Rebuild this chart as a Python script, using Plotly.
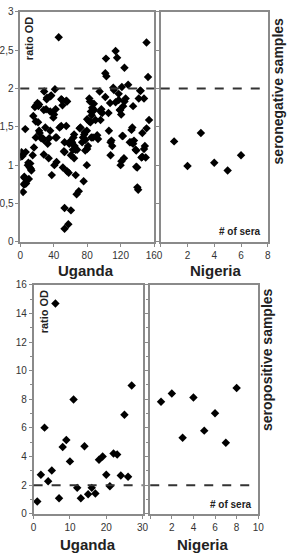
import plotly.graph_objects as go

# ---------------- data ----------------
uganda_neg_x = [0.5, 1.5, 2.6, 3.4, 4.2, 4.5, 5.3, 4.9, 6, 6.5, 6.9, 9.1, 9.7, 10.3, 11.4, 12, 12.8, 13.3,
                14.9, 16.4, 15.6, 18.6, 18.6, 17.5, 19, 20.6, 21.7, 22.5, 21.3, 22.5,
                23.2, 25, 26.9, 28, 28.2, 28.2, 28.6, 30, 30.9, 31.6, 32, 32.8, 34, 34.6, 35.8, 35.8,
                36, 37, 37.7, 39.6, 40.4, 40.8,
                41.5, 42.3, 42.3, 43.4, 43.4, 46, 47, 49, 49, 50, 50.5, 51, 52.2, 53, 53, 53, 53,
                55, 55, 56, 56, 57.5, 57.9, 58.6, 60.6, 60.6, 60.6, 62,
                63.6, 63, 64.4, 64.4, 65, 66, 66.3, 67.4, 68, 70, 71, 72, 74, 75, 75.8, 76.5, 77,
                77.7, 78, 79.6, 79.6, 80, 80, 81,
                82.6, 82.6, 83.4, 84, 84.5, 85, 85.5, 86, 87, 88, 88.5, 90, 92, 93, 94.9, 96, 96, 97, 98,
                101.7, 101.7, 102.5, 103, 105.5, 106, 107.4, 108, 108, 109, 110, 111.2, 112, 114, 114,
                115.8, 117.7, 117.7, 119, 119.6, 120, 120.7, 121, 121.5, 122,
                122.7, 123, 124, 124.6, 124.6, 126, 129, 131, 132.6, 133, 134, 134.9, 135, 136, 138,
                138.7, 138.7, 139.8, 140, 141, 141.7, 143.4, 144, 145, 146, 146, 148, 148, 149, 150,
                151, 151, 152.8, 154]
uganda_neg_y = [1.11, 1.17, 1.12, 0.65, 0.75, 0.84, 0.75, 0.85, 1.47, 1.17, 0.76, 1.0, 1.03, 0.82, 0.97, 1.02, 0.95, 0.93,
                1.13, 1.23, 1.64, 1.36, 1.57, 1.76, 1.78, 1.81, 1.77, 1.79, 1.56, 1.45,
                1.42, 1.35, 1.35, 1.33, 1.14, 1.72, 1.96, 1.49, 1.73, 1.86, 1.88, 1.28, 1.09, 1.35, 1.45, 1.70,
                1.90, 1.91, 0.87, 1.62, 1.66, 1.0,
                1.99, 1.36, 1.73, 1.36, 1.04, 2.67, 1.49, 1.86, 1.51, 1.85, 1.78, 0.97, 1.18, 1.30, 1.17, 0.44, 0.17,
                1.84, 1.51, 0.92, 1.83, 0.23, 0.90, 1.28, 0.41, 1.13, 1.32, 1.30,
                1.36, 1.20, 1.40, 1.09, 1.25, 1.20, 0.87, 0.62, 1.20, 0.66, 1.48, 1.49, 1.30, 1.36, 0.79, 1.40, 1.43,
                1.19, 1.33, 1.45, 1.0, 1.21, 1.60, 1.25,
                1.87, 1.57, 1.83, 1.56, 1.70, 1.36, 1.65, 1.75, 1.36, 1.80, 1.72, 1.59, 1.39, 1.34, 1.96, 1.70, 1.59, 1.73, 1.68,
                1.89, 2.20, 2.39, 2.16, 1.68, 1.45, 1.81, 1.13, 1.30, 1.32, 1.25, 2.01, 1.98, 2.49, 1.82,
                2.40, 1.93, 1.85, 1.72, 1.72, 1.0, 1.66, 1.05, 2.02, 1.38,
                1.38, 1.77, 1.09, 2.27, 1.83, 1.87, 2.05, 1.30, 1.30, 1.46, 1.49, 1.77, 1.28, 1.32, 1.20,
                1.19, 0.98, 0.97, 0.71, 0.68, 1.87, 1.97, 1.97, 1.10, 1.42, 1.11, 1.21, 1.87, 1.25, 1.10,
                2.60, 1.48, 2.15, 1.59]

nigeria_neg_x = [1, 2, 3, 4, 5, 6]
nigeria_neg_y = [1.31, 0.99, 1.42, 1.03, 0.93, 1.13]

uganda_pos_x = list(range(1, 28))
uganda_pos_y = [0.85, 2.72, 6.02, 2.27, 3.02, 14.7, 1.08, 4.67, 5.15, 3.66, 7.99, 1.81, 1.08, 4.72,
                1.37, 1.81, 1.42, 3.78, 4.0, 2.72, 1.92, 4.21, 4.14, 2.68, 6.92, 2.59, 8.97]

nigeria_pos_x = [1, 2, 3, 4, 5, 6, 7, 8]
nigeria_pos_y = [7.83, 8.40, 5.31, 8.13, 5.81, 7.03, 4.97, 8.79]

cutoff = 2

neg_y_ticks = [0, 0.5, 1, 1.5, 2, 2.5, 3]
neg_y_text = ["0", "0,5", "1", "1,5", "2", "2,5", "3"]

# ---------------- layout helpers ----------------
W, H = 294, 554
def dx(a, b):
    return [a / W, b / W]
def dy(top, bottom):
    return [1 - bottom / H, 1 - top / H]

FRAME = "#8a8a8a"
TXT = "#333333"
FONT = "Liberation Sans, Arial, sans-serif"

def axis(**kw):
    base = dict(showline=True, mirror=True, linecolor=FRAME, linewidth=1.5,
                showgrid=False, zeroline=False, ticks="outside", ticklen=3,
                tickcolor=FRAME, tickwidth=1, tickfont=dict(size=10, color=TXT, family=FONT))
    base.update(kw)
    return base

marker = dict(symbol="diamond", size=6.5, color="black")

fig = go.Figure()
fig.add_trace(go.Scatter(x=uganda_neg_x, y=uganda_neg_y, mode="markers", marker=marker,
                         xaxis="x", yaxis="y", showlegend=False))
fig.add_trace(go.Scatter(x=nigeria_neg_x, y=nigeria_neg_y, mode="markers", marker=marker,
                         xaxis="x2", yaxis="y2", showlegend=False))
fig.add_trace(go.Scatter(x=uganda_pos_x, y=uganda_pos_y, mode="markers", marker=marker,
                         xaxis="x3", yaxis="y3", showlegend=False))
fig.add_trace(go.Scatter(x=nigeria_pos_x, y=nigeria_pos_y, mode="markers", marker=marker,
                         xaxis="x4", yaxis="y4", showlegend=False))

top_y = dy(6, 241)
bot_y = dy(285, 519)

fig.update_layout(
    width=W, height=H, margin=dict(l=0, r=0, t=0, b=0),
    paper_bgcolor="white", plot_bgcolor="white",
    font=dict(family=FONT, color=TXT),
    xaxis=axis(domain=dx(17, 157), range=[0, 160], tickvals=[0, 40, 80, 120, 160], anchor="y"),
    yaxis=axis(domain=top_y, range=[0, 3], tickvals=neg_y_ticks, ticktext=neg_y_text, anchor="x"),
    xaxis2=axis(domain=dx(164, 276), range=[0, 8], tickvals=[0, 2, 4, 6, 8],
                ticktext=["", "2", "4", "6", "8"], anchor="y2"),
    yaxis2=axis(domain=top_y, range=[0, 3], tickvals=neg_y_ticks, showticklabels=False, anchor="x2"),
    xaxis3=axis(domain=dx(31, 145), range=[0, 30], tickvals=[0, 10, 20, 30], anchor="y3"),
    yaxis3=axis(domain=bot_y, range=[0, 16], tickvals=list(range(0, 17, 2)), anchor="x3",
                minor=dict(dtick=1, ticks="outside", ticklen=2, tickcolor=FRAME)),
    xaxis4=axis(domain=dx(153, 266), range=[0, 10], tickvals=[0, 2, 4, 6, 8, 10],
                ticktext=["", "2", "4", "6", "8", "10"], anchor="y4"),
    yaxis4=axis(domain=bot_y, range=[0, 16], tickvals=list(range(0, 17, 2)), showticklabels=False,
                anchor="x4", minor=dict(dtick=1, ticks="outside", ticklen=2, tickcolor=FRAME)),
)

for xr, yr in [("x", "y"), ("x2", "y2"), ("x3", "y3"), ("x4", "y4")]:
    fig.add_shape(type="line", xref=f"{xr} domain", yref=yr, x0=0, x1=1, y0=cutoff, y1=cutoff,
                  line=dict(color="#333333", width=2, dash="dash"))

def ann(text, x, y, size, angle=0, color="#222222"):
    fig.add_annotation(text=text, x=x / W, y=1 - y / H, xref="paper", yref="paper",
                       showarrow=False, textangle=angle, xanchor="center", yanchor="middle",
                       font=dict(size=size, color=color, family=FONT))

ann("<b>Uganda</b>", 86, 270, 15)
ann("<b>Nigeria</b>", 222, 270, 15)
ann("<b>Uganda</b>", 88, 550, 15)
ann("<b>Nigeria</b>", 208, 550, 15)
ann("<b>ratio OD</b>", 26, 33, 11, angle=-90)
ann("<b>ratio OD</b>", 42, 313, 11, angle=-90)
ann("<b># of sera</b>", 247, 231, 10)
ann("<b># of sera</b>", 237, 510, 10)
ann("<b>seronegative samples</b>", 287, 87, 14, angle=-90)
ann("<b>seropositive samples</b>", 275, 361, 14, angle=-90)

fig.write_html("out.html")
